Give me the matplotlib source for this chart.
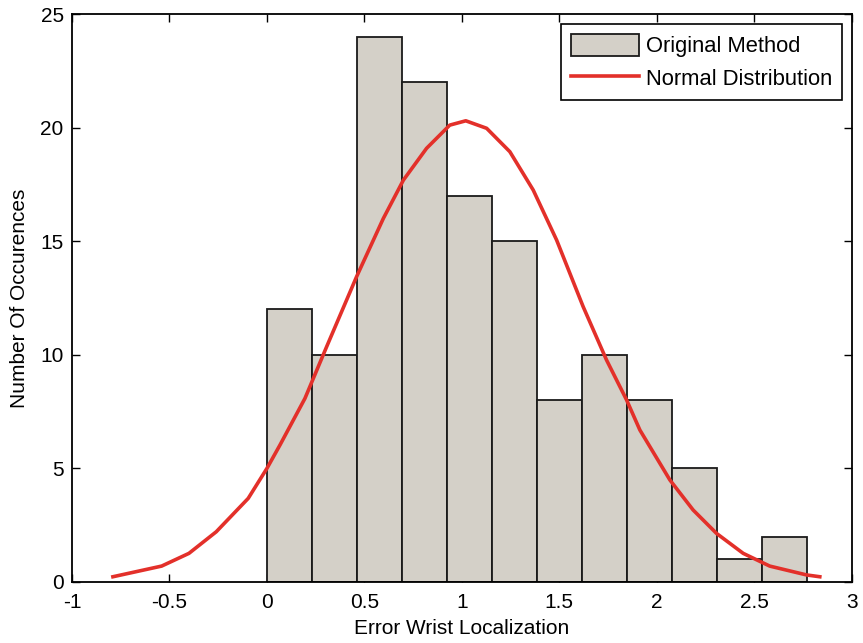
import numpy as np
import matplotlib
matplotlib.use("Agg")
import matplotlib.pyplot as plt

plt.rcParams['font.family'] = ['Liberation Sans', 'DejaVu Sans']

# Histogram of wrist localization errors
bin_start = 0.0
bin_width = 0.2308
counts = [12, 10, 24, 22, 17, 15, 8, 10, 8, 5, 1, 2]

# Fitted distribution curve (x, occurrences)
curve_x = [-0.79, -0.54, -0.40, -0.26, -0.096, 0.0, 0.067, 0.195, 0.306, 0.46,
           0.597, 0.70, 0.819, 0.938, 1.02, 1.127, 1.246, 1.366, 1.486, 1.622,
           1.742, 1.845, 1.913, 2.067, 2.186, 2.306, 2.443, 2.579, 2.768, 2.836]
curve_y = [0.23, 0.70, 1.26, 2.21, 3.68, 5.0, 6.03, 8.08, 10.35, 13.44,
           16.0, 17.69, 19.09, 20.11, 20.3, 19.97, 18.94, 17.25, 15.05, 12.12,
           9.77, 8.01, 6.69, 4.49, 3.17, 2.14, 1.26, 0.70, 0.31, 0.23]

fig = plt.figure(figsize=(8.63, 6.43), dpi=100)
ax = fig.add_axes([0.0834, 0.0949, 0.9036, 0.8833])

lefts = bin_start + bin_width * np.arange(len(counts))
bars = ax.bar(lefts, counts, width=bin_width, align='edge', color='#D4D0C8',
              edgecolor='#1a1a1a', linewidth=1.3, label='Original Method', zorder=2)
line, = ax.plot(curve_x, curve_y, color='#E3302A', linewidth=2.6,
                label='Normal Distribution', zorder=3)

ax.set_xlim(-1, 3)
ax.set_ylim(0, 25)
ax.set_xticks(np.arange(-1, 3.01, 0.5))
ax.set_xticklabels(['-1', '-0.5', '0', '0.5', '1', '1.5', '2', '2.5', '3'])
ax.set_yticks([0, 5, 10, 15, 20, 25])
ax.tick_params(direction='in', top=True, right=True, length=6, width=1,
               labelsize=15)
ax.tick_params(axis='x', pad=8)
ax.tick_params(axis='y', pad=6)
for s in ax.spines.values():
    s.set_linewidth(1.3)

ax.set_xlabel('Error Wrist Localization', fontsize=15, labelpad=5)
ax.set_ylabel('Number Of Occurences', fontsize=15, labelpad=8)

leg = ax.legend([bars, line], ['Original Method', 'Normal Distribution'],
                loc='upper right', fontsize=15.8, frameon=True, fancybox=False,
                edgecolor='black', framealpha=1, borderpad=0.45,
                handlelength=3.1, handleheight=1.15, handletextpad=0.3,
                labelspacing=0.45, borderaxespad=0.45)
leg.get_frame().set_linewidth(1.2)

fig.savefig('out.png', dpi=100)
